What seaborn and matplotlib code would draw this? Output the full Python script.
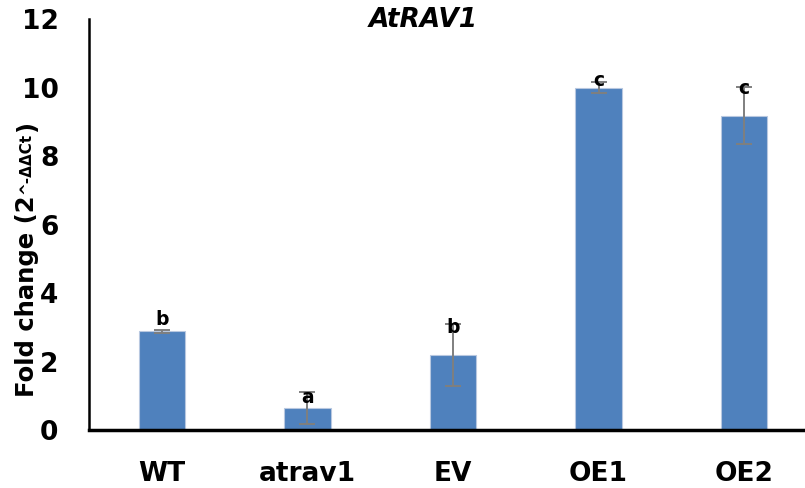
import numpy as np
import pandas as pd
import matplotlib
matplotlib.use('Agg')
import matplotlib.pyplot as plt
import seaborn as sns

#-------------------------data-------------------------

genotypes = ['WT', 'atrav1', 'EV', 'OE1', 'OE2']
fold_change = [2.88, 0.64, 2.19, 10.0, 9.18]
fold_err = [0.05, 0.47, 0.90, 0.17, 0.84]
letters = ['b', 'a', 'b', 'c', 'c']
letter_y = [3.07, 0.79, 2.83, 10.04, 9.81]   # baseline of the significance letters
y_ticks = [0, 2, 4, 6, 8, 10, 12]

df = pd.DataFrame({'Genotype': genotypes, 'Fold': fold_change, 'Err': fold_err})

#-------------------------style-------------------------

sns.set_theme(style='white')
plt.rcParams['font.family'] = ['DejaVu Sans']
plt.rcParams['text.color'] = 'black'
plt.rcParams['xtick.color'] = 'black'
plt.rcParams['ytick.color'] = 'black'
plt.rcParams['axes.labelcolor'] = 'black'

bar_color = '#4F81BD'
err_color = '#7f7f7f'

fig = plt.figure(figsize=(8.05, 4.88), dpi=100)
ax = fig.add_axes([89 / 805, 58 / 488, 716 / 805, 411 / 488])

sns.barplot(data=df, x='Genotype', y='Fold', color=bar_color, saturation=1,
            width=0.32, errorbar=None, edgecolor='#b8c8e0', linewidth=0.8, ax=ax)

# error bars drawn from the table
ax.errorbar(np.arange(len(df)), df['Fold'], yerr=df['Err'], fmt='none',
            ecolor=err_color, elinewidth=1.4, capsize=5.5, capthick=1.4, zorder=3)

# significance letters
for i, lab in enumerate(letters):
    ax.text(i, letter_y[i], lab, ha='center', va='baseline',
            fontsize=13.5, fontweight='bold', color='black', zorder=4)

ax.set_xlim(-0.5, -0.5 + 716 / 145.6)
ax.set_ylim(0, 12)
ax.set_yticks(y_ticks)
ax.set_xlabel('')
ax.set_ylabel('')
ax.tick_params(axis='both', length=0, pad=22, labelsize=19, colors='black')
for t in ax.get_xticklabels() + ax.get_yticklabels():
    t.set_fontweight('bold')

sns.despine(ax=ax)
ax.spines['left'].set_color('black')
ax.spines['left'].set_linewidth(1.8)
ax.spines['bottom'].set_color('black')
ax.spines['bottom'].set_linewidth(2.5)
ax.spines['bottom'].set_zorder(5)

# title
fig.text(423 / 805, 1 - 20 / 488, 'AtRAV1', ha='center', va='center',
         fontsize=19, fontweight='bold', style='italic', color='black')

#-------------------------y label with superscript-------------------------

fig.canvas.draw()
fh = fig.bbox.height
base_x = 34 / 805
y0 = (488 - 397) / 488

def put(txt, x, y, size):
    t = fig.text(x, y, txt, rotation=90, rotation_mode='anchor', color='black',
                 ha='left', va='baseline', fontsize=size, fontweight='bold')
    fig.canvas.draw()
    return y + t.get_window_extent().height / fh

y1 = put('Fold change (2', base_x, y0, 17.5)
y2 = put('^-ΔΔCt', base_x - 4 / 805, y1 + 1 / 488, 11)
put(')', base_x, y2 + 1 / 488, 17.5)

plt.savefig('out.png', dpi=100)
